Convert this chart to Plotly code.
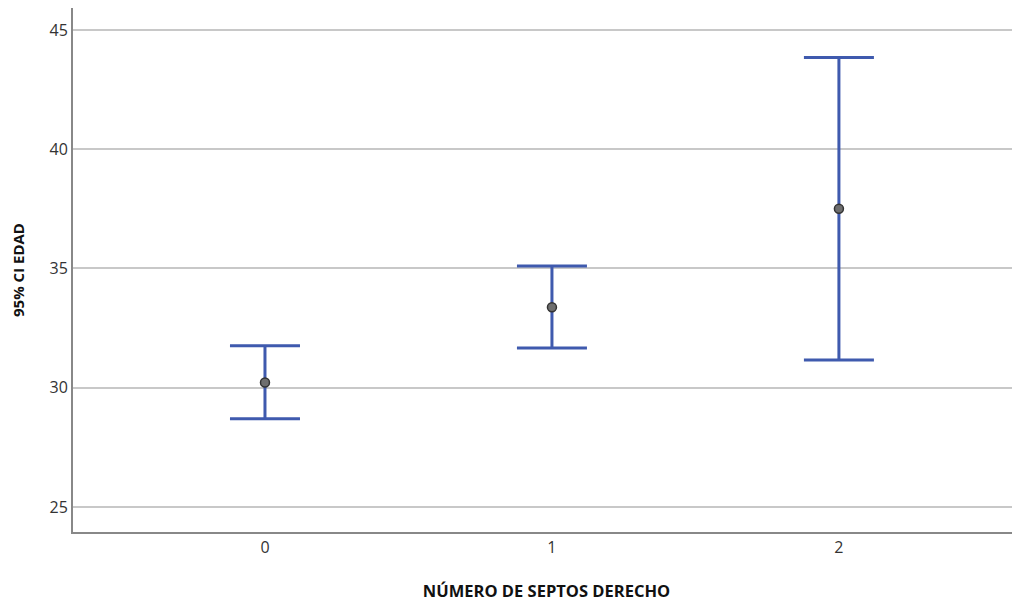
import plotly.graph_objects as go

categories = [0, 1, 2]
means = [30.22, 33.37, 37.50]
ci_lower = [28.70, 31.66, 31.16]
ci_upper = [31.76, 35.10, 43.84]

err_plus = [u - m for u, m in zip(ci_upper, means)]
err_minus = [m - l for m, l in zip(means, ci_lower)]

fig = go.Figure()
fig.add_trace(go.Scatter(
    x=categories, y=means, mode="markers",
    marker=dict(size=9, color="#6e6e6e", line=dict(color="#333333", width=1.5)),
    error_y=dict(type="data", symmetric=False, array=err_plus, arrayminus=err_minus,
                 color="#3F5AAE", thickness=3, width=35),
    showlegend=False,
))

fig.update_layout(
    width=1012, height=595,
    margin=dict(l=65, r=0, t=0, b=71),
    paper_bgcolor="white", plot_bgcolor="white",
    font=dict(family="Open Sans, Noto Sans, sans-serif", color="#222222", size=16),
    xaxis=dict(
        range=[-0.669, 2.631], tickvals=categories, ticktext=[str(c) for c in categories],
        showgrid=False, zeroline=False, showline=True, linecolor="#888888", linewidth=2,
        ticks="", tickfont=dict(size=16, color="#333333"),
        title=dict(text="<b>NÚMERO DE SEPTOS DERECHO</b>", font=dict(size=16.5, color="#111111"), standoff=28),
    ),
    yaxis=dict(
        range=[23.95, 45.92], tickvals=[25, 30, 35, 40, 45],
        showgrid=True, gridcolor="#c8c8c8", gridwidth=1.5, zeroline=False,
        showline=True, linecolor="#888888", linewidth=2, ticks="",
        tickfont=dict(size=16, color="#333333"),
        title=dict(text="<b>95% CI EDAD</b>", font=dict(size=15, color="#111111"), standoff=24),
    ),
)

fig.write_html("out.html")
